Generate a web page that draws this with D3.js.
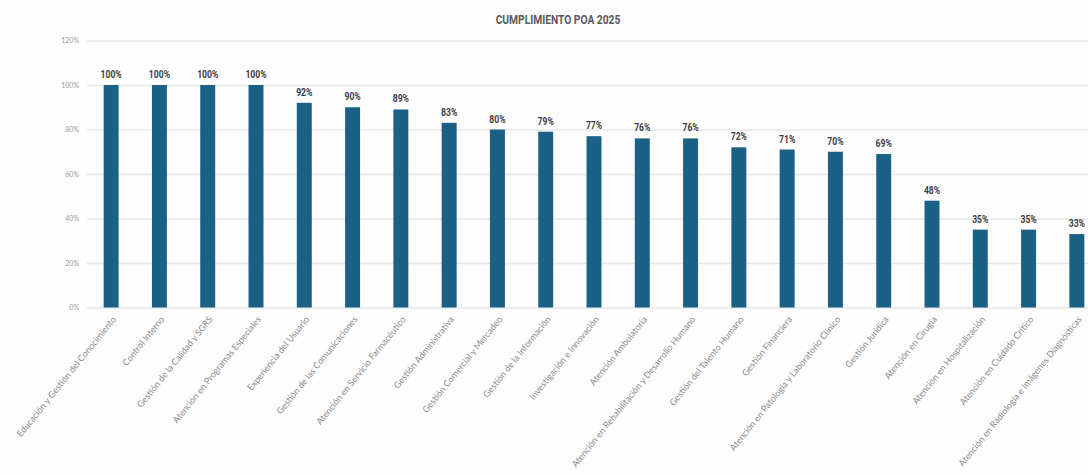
<!DOCTYPE html>
<html>
<head>
<meta charset="utf-8">
<script src="https://cdn.jsdelivr.net/npm/d3@7/dist/d3.min.js"></script>
<style>
  html, body { margin: 0; padding: 0; background: #fdfdfd; }
  svg { display: block; }
  .cond { font-family: "Roboto", "Liberation Sans", sans-serif; }
  .lab { font-family: "Lato", "Liberation Sans", sans-serif; }
</style>
</head>
<body>
<svg id="chart" width="1088" height="475"></svg>
<script>
// Cumplimiento POA 2025 por proceso
const categories = [
  "Educación y Gestión del Conocimiento",
  "Control Interno",
  "Gestión de la Calidad y SGRS",
  "Atención en Programas Especiales",
  "Experiencia del Usuario",
  "Gestión de las Comunicaciones",
  "Atención en Servicio Farmacéutico",
  "Gestión Administrativa",
  "Gestión Comercial y Mercadeo",
  "Gestión de la Información",
  "Investigación e Innovación",
  "Atención Ambulatoria",
  "Atención en Rehabilitación y Desarrollo Humano",
  "Gestión del Talento Humano",
  "Gestión Financiera",
  "Atención en Patología y Laboratorio Clínico",
  "Gestión Jurídica",
  "Atención en Cirugía",
  "Atención en Hospitalización",
  "Atención en Cuidado Crítico",
  "Atención en Radiología e Imágenes Diagnósticas"
];
const values = [100, 100, 100, 100, 92, 90, 89, 83, 80, 79, 77, 76, 76, 72, 71, 70, 69, 48, 35, 35, 33];
const yTicks = [0, 20, 40, 60, 80, 100, 120];
const title = "CUMPLIMIENTO POA 2025";

const svg = d3.select("#chart");
const W = 1088, H = 475;
const plot = { left: 87, right: 1101, top: 40.5, bottom: 307.5 };
const squeeze = 0.82; // horizontal compression for the condensed bold texts

const x = d3.scaleBand()
  .domain(categories)
  .range([plot.left, plot.right])
  .paddingInner(0.69)
  .paddingOuter(0.345);

const y = d3.scaleLinear()
  .domain([0, 120])
  .range([plot.bottom, plot.top]);

// gridlines + tick labels
const yAxis = d3.axisLeft(y)
  .tickValues(yTicks)
  .tickFormat(d => d + "%")
  .tickSize(-(W - plot.left + 20))
  .tickPadding(8);

const gy = svg.append("g")
  .attr("transform", `translate(${plot.left},0)`)
  .call(yAxis);
gy.select(".domain").remove();
gy.selectAll(".tick line").attr("stroke", "#e6e6e6").attr("stroke-width", 1.6);
gy.selectAll(".tick text")
  .attr("class", "lab")
  .attr("fill", "#9a9a9a")
  .style("font-size", "7px");

// bars
svg.append("g").selectAll("rect")
  .data(values)
  .join("rect")
  .attr("x", (d, i) => x(categories[i]))
  .attr("y", d => y(d))
  .attr("width", x.bandwidth())
  .attr("height", d => y(0) - y(d))
  .attr("fill", "#1b6185");

// value labels
svg.append("g").selectAll("text")
  .data(values)
  .join("text")
  .attr("class", "cond")
  .attr("transform", (d, i) => `translate(${x(categories[i]) + x.bandwidth() / 2},${y(d) - 7}) scale(${squeeze},1)`)
  .attr("text-anchor", "middle")
  .attr("fill", "#404040")
  .style("font-size", "10.5px")
  .style("font-weight", "bold")
  .text(d => d + "%");

// category labels
svg.append("g").selectAll("text")
  .data(categories)
  .join("text")
  .attr("class", "lab")
  .attr("transform", d => `translate(${x(d) + x.bandwidth() / 2 + 3},${plot.bottom + 10}) rotate(-51)`)
  .attr("text-anchor", "end")
  .attr("dy", "0.35em")
  .attr("fill", "#8a8a8a")
  .style("font-size", "9px")
  .text(d => d);

// title
svg.append("text")
  .attr("class", "cond")
  .attr("transform", `translate(558,24) scale(${squeeze},1)`)
  .attr("text-anchor", "middle")
  .attr("fill", "#5a5a5a")
  .style("font-size", "12.5px")
  .style("font-weight", "bold")
  .text(title);
</script>
</body>
</html>
